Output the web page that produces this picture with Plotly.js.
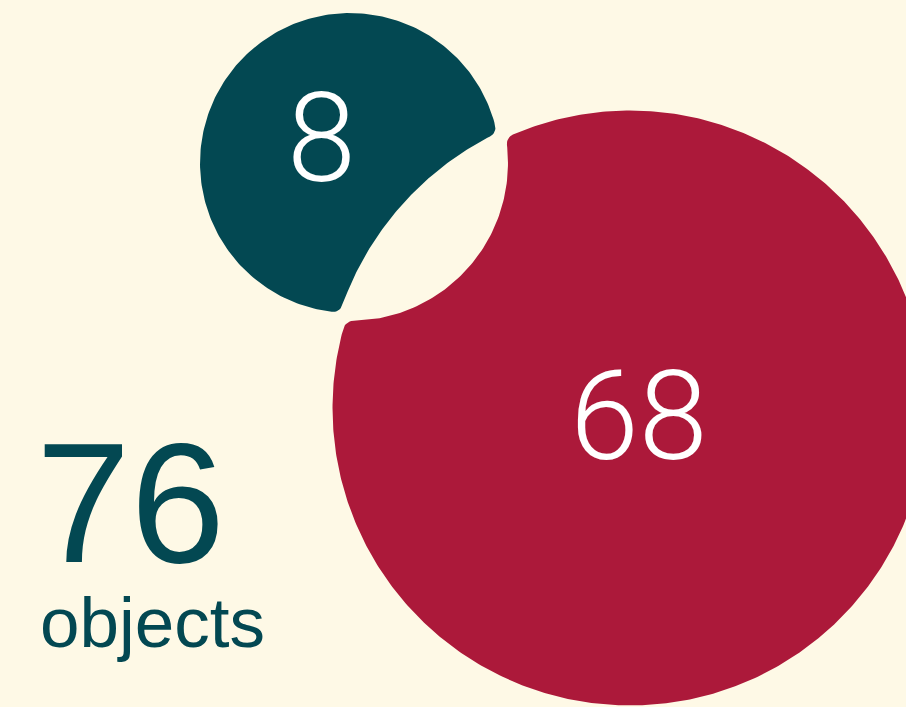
<!DOCTYPE html>
<html>
<head>
<meta charset="utf-8">
<script src="https://cdn.plot.ly/plotly-3.0.1.min.js"></script>
<style>
html,body{margin:0;padding:0;background:#FEF9E6;}
#chart{width:906px;height:707px;}
</style>
</head>
<body>
<div id="chart"></div>
<script>
// ---- data ----
const groupNames = ['group A', 'group B'];
const groupValues = [8, 68];
const totalUnit = 'objects';

// ---- layout / style constants ----
const W = 906, H = 707;
const BG = '#FEF9E6';
const COLORS = ['#034852', '#AC193A'];
const CENTERS = [[350, 163], [630, 408]];   // bubble placement (pixels)
const R_K = 77.1, R_EXP = 0.32;             // radius scale
const GAP = 8, FILLET = 10;                 // cut padding and corner rounding
const LABEL_SHIFT = [-38, -12];             // label offset along centre line (negative = away from neighbour)

const radius = v => R_K * Math.pow(v, R_EXP);
const radii = groupValues.map(radius);

function norm(a){ while(a > Math.PI) a -= 2*Math.PI; while(a <= -Math.PI) a += 2*Math.PI; return a; }
function arc(pts, c, r, a0, a1){
  const n = Math.max(8, Math.ceil(Math.abs(a1 - a0) * r / 3));
  for(let i = 0; i <= n; i++){
    const a = a0 + (a1 - a0) * i / n;
    pts.push([c[0] + r*Math.cos(a), c[1] + r*Math.sin(a)]);
  }
}
// disk A minus (disk B grown by GAP), convex corners rounded by FILLET
function cutShape(cA, rA, cB, rB){
  const dx = cB[0]-cA[0], dy = cB[1]-cA[1];
  const d = Math.hypot(dx, dy);
  const u = [dx/d, dy/d], p = [-u[1], u[0]];
  const R1 = rA - FILLET, Rc = rB + GAP, R2 = Rc + FILLET;
  const a = (d*d + R1*R1 - R2*R2) / (2*d);
  const h = Math.sqrt(Math.max(0, R1*R1 - a*a));
  const F = [1, -1].map(s => [cA[0] + a*u[0] + s*h*p[0], cA[1] + a*u[1] + s*h*p[1]]);
  const phi = Math.atan2(dy, dx);
  const angO = F.map(f => Math.atan2(f[1]-cA[1], f[0]-cA[0]));
  const angC = F.map(f => Math.atan2(cB[1]-f[1], cB[0]-f[0]));
  const angB = F.map(f => Math.atan2(f[1]-cB[1], f[0]-cB[0]));
  let rel = angO.map(t => norm(t - phi));
  let iP = rel[0] > 0 ? 0 : 1, iM = 1 - iP;
  const pts = [];
  arc(pts, cA, rA, phi + rel[iP], phi + rel[iM] + 2*Math.PI);
  arc(pts, F[iM], FILLET, angO[iM], angO[iM] + norm(angC[iM] - angO[iM]));
  arc(pts, cB, Rc, angB[iM], angB[iM] + norm(angB[iP] - angB[iM]));
  arc(pts, F[iP], FILLET, angC[iP], angC[iP] + norm(angO[iP] - angC[iP]));
  return pts;
}

const traces = [];
const annotations = [];
groupValues.forEach((v, i) => {
  const j = 1 - i;
  const pts = cutShape(CENTERS[i], radii[i], CENTERS[j], radii[j]);
  traces.push({
    type: 'scatter', mode: 'lines', name: groupNames[i],
    x: pts.map(q => q[0]), y: pts.map(q => q[1]),
    fill: 'toself', fillcolor: COLORS[i],
    line: {width: 0, color: COLORS[i]}, hoverinfo: 'skip', showlegend: false
  });
  const dx = CENTERS[j][0]-CENTERS[i][0], dy = CENTERS[j][1]-CENTERS[i][1];
  const d = Math.hypot(dx, dy);
  annotations.push({
    x: CENTERS[i][0] + LABEL_SHIFT[i]*dx/d, y: CENTERS[i][1] + LABEL_SHIFT[i]*dy/d + 1,
    xref: 'x', yref: 'y', text: String(v), showarrow: false,
    xanchor: 'center', yanchor: 'middle', borderpad: 0,
    font: {family: 'Roboto, "Liberation Sans", sans-serif', weight: 300, size: 124, color: '#FFFFFF'}
  });
});

const total = groupValues.reduce((s, v) => s + v, 0);
annotations.push({
  x: 35, y: 503, xref: 'x', yref: 'y', text: String(total), showarrow: false,
  xanchor: 'left', yanchor: 'middle', borderpad: 0, height: 140,
  font: {family: '"Liberation Sans", Arial, sans-serif', size: 170, color: COLORS[0]}
});
annotations.push({
  x: 39, y: 622, xref: 'x', yref: 'y', text: totalUnit, showarrow: false,
  xanchor: 'left', yanchor: 'middle', borderpad: 0, height: 84,
  font: {family: '"Liberation Sans", Arial, sans-serif', size: 71, color: COLORS[0]}
});

const layout = {
  width: W, height: H,
  margin: {l: 0, r: 0, t: 0, b: 0},
  paper_bgcolor: BG, plot_bgcolor: BG,
  xaxis: {range: [0, W], visible: false, fixedrange: true},
  yaxis: {range: [H, 0], visible: false, fixedrange: true},
  showlegend: false,
  annotations: annotations
};
Plotly.newPlot('chart', traces, layout, {staticPlot: true, displayModeBar: false});
</script>
</body>
</html>
